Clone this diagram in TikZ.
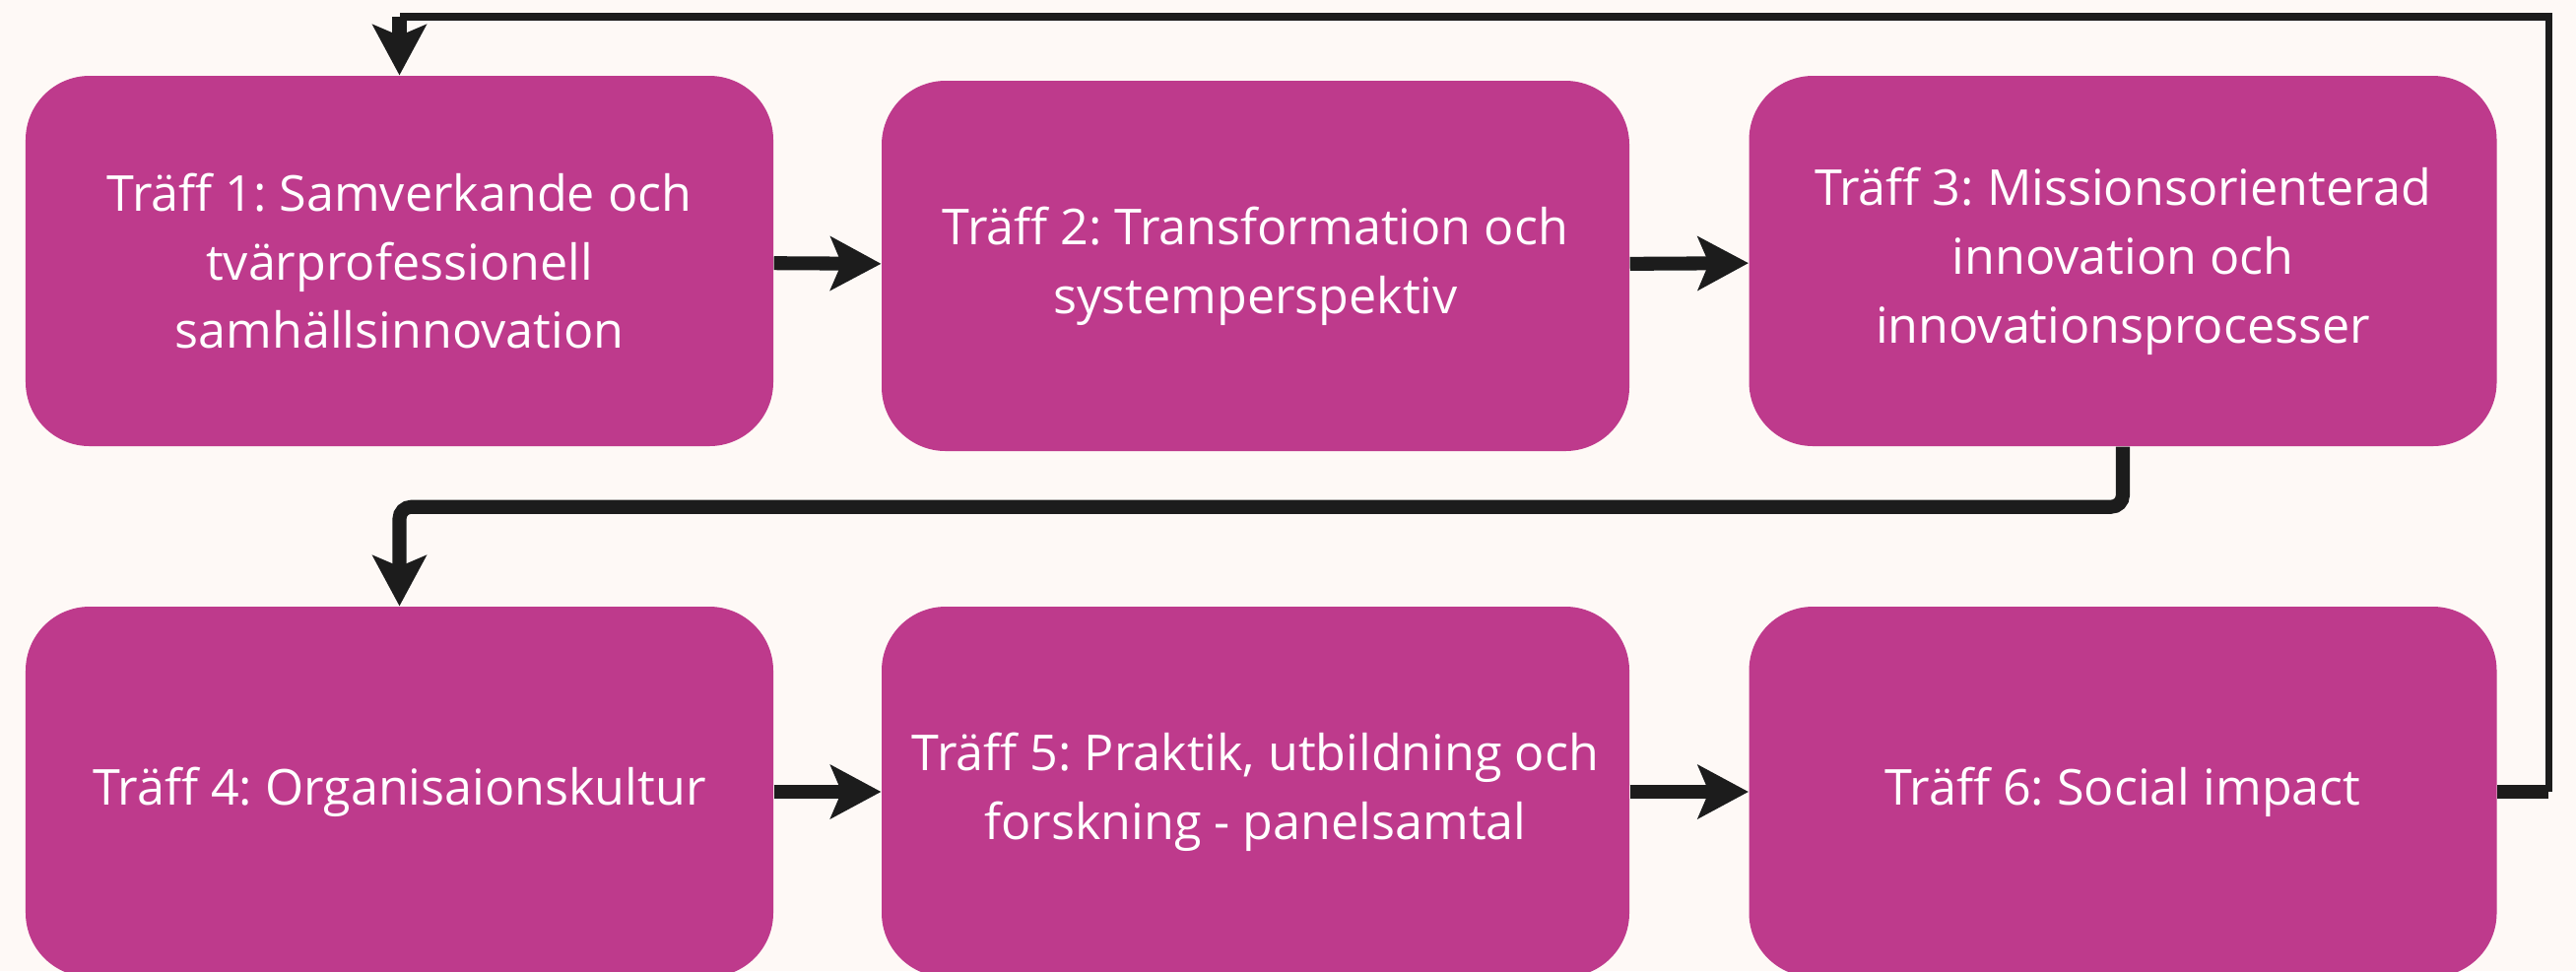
\documentclass[tikz,border=0pt]{standalone}
\usepackage{fontspec}
\setmainfont{Open Sans}
\usepackage{tikz}
\usetikzlibrary{arrows.meta,positioning,backgrounds}

\definecolor{traffpink}{RGB}{190,58,140}
\definecolor{paper}{RGB}{254,249,246}
\definecolor{ink}{RGB}{28,28,28}

\begin{document}
\frenchspacing
\begin{tikzpicture}
		\tikzstyle{traff}=[fill=traffpink,rounded corners=0.65cm,minimum width=7.59cm,minimum height=3.76cm,inner sep=0pt,align=center,text=white,font=\fontsize{14.3}{19.9}\selectfont]
		\tikzstyle{flow}=[ink,line width=4pt,arrows={-Stealth[length=5.2mm,width=5.6mm,inset=1.2mm,line width=0pt]}]
		\tikzstyle{flowline}=[ink,line width=4pt]
		\tikzstyle{backline}=[ink,line width=2pt]
		
		\fill[paper] (0,0) rectangle (26.15,-9.86);
		\useasboundingbox (0,0) rectangle (26.15,-9.86);
		
		% first row
		\node[traff] (t1) at (4.055,-2.65) {Träff 1: Samverkande och\\tvärprofessionell\\samhällsinnovation};
		\node[traff] (t2) at (12.745,-2.70) {Träff 2: Transformation och\\systemperspektiv};
		\node[traff] (t3) at (21.55,-2.65) {Träff 3: Missionsorienterad\\innovation och\\innovationsprocesser};
		
		% second row
		\node[traff] (t4) at (4.055,-8.04) {Träff 4: Organisaionskultur};
		\node[traff] (t5) at (12.745,-8.04) {Träff 5: Praktik, utbildning och\\forskning - panelsamtal};
		\node[traff] (t6) at (21.55,-8.04) {Träff 6: Social impact};
		
		\draw[flow] (t1) -- (t2);
		\draw[flow] (t2) -- (t3);
		\draw[flow] (t4) -- (t5);
		\draw[flow] (t5) -- (t6);
		\draw[flow,rounded corners=0.12cm] (t3.south) -- ++(0,-0.61) -| (t4.north);
		
		% back to the start
		\coordinate (back1) at (25.87,-8.04);
		\coordinate (back2) at (4.055,-0.17);
		\draw[flowline] (t6.east) -- (back1);
		\draw[backline] (back1) |- (back2);
		\draw[flow] (back2) -- (t1.north);
		\end{tikzpicture}
\end{document}
